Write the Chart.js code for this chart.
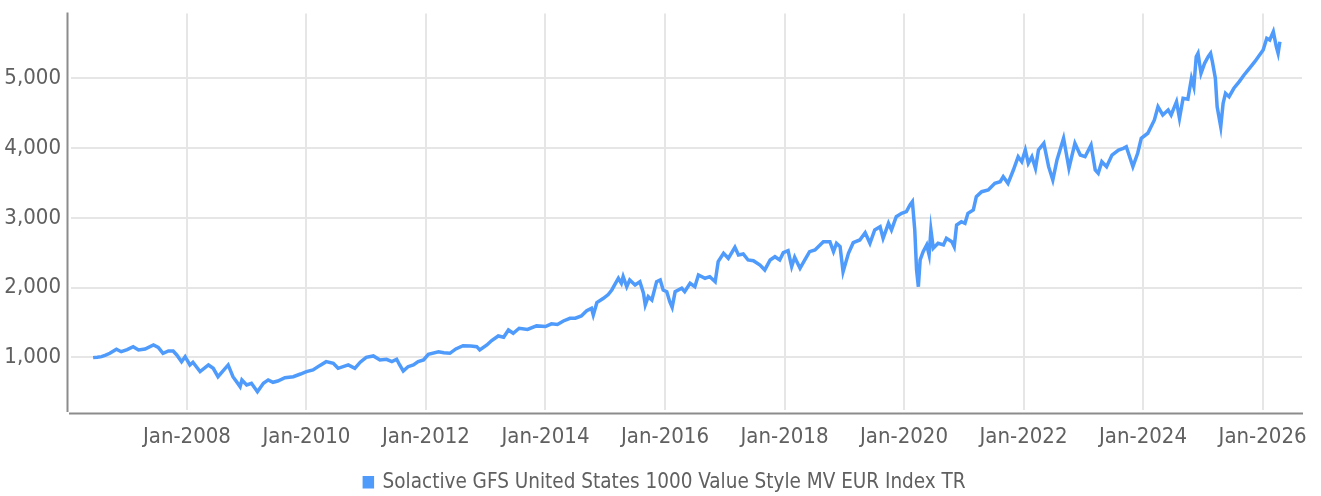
<!DOCTYPE html>
<html>
<head>
<meta charset="utf-8">
<script src="https://cdn.jsdelivr.net/npm/chart.js@4.4.1/dist/chart.umd.min.js"></script>
<style>
  html, body { margin: 0; padding: 0; background: #ffffff; }
  #wrap { width: 1321px; height: 496px; position: relative; }
</style>
</head>
<body>
<div id="wrap"><canvas id="c" width="1321" height="496"></canvas></div>
<script>
// Time in decimal years
const dateYears = [
  2006.43, 2006.50, 2006.57, 2006.64, 2006.71, 2006.82, 2006.90, 2007.00, 2007.10, 2007.19,
  2007.30, 2007.44, 2007.52, 2007.60, 2007.69, 2007.77, 2007.83, 2007.91, 2007.97, 2008.05,
  2008.10, 2008.22, 2008.36, 2008.44, 2008.52, 2008.69, 2008.77, 2008.89, 2008.92, 2009.00,
  2009.08, 2009.18, 2009.28, 2009.36, 2009.44, 2009.52, 2009.64, 2009.78, 2009.90, 2010.00,
  2010.11, 2010.22, 2010.33, 2010.45, 2010.53, 2010.70, 2010.81, 2010.90, 2011.00, 2011.12,
  2011.23, 2011.34, 2011.43, 2011.51, 2011.56, 2011.62, 2011.70, 2011.79, 2011.87, 2011.96,
  2012.04, 2012.21, 2012.30, 2012.40, 2012.50, 2012.62, 2012.75, 2012.85, 2012.90, 2013.02,
  2013.10, 2013.21, 2013.30, 2013.38, 2013.46, 2013.56, 2013.70, 2013.85, 2014.00, 2014.10,
  2014.20, 2014.30, 2014.41, 2014.50, 2014.60, 2014.69, 2014.77, 2014.80, 2014.86, 2014.97,
  2015.05, 2015.11, 2015.22, 2015.27, 2015.30, 2015.36, 2015.41, 2015.50, 2015.58, 2015.64,
  2015.67, 2015.72, 2015.78, 2015.86, 2015.92, 2015.97, 2016.03, 2016.08, 2016.12, 2016.17,
  2016.28, 2016.33, 2016.42, 2016.50, 2016.56, 2016.67, 2016.75, 2016.84, 2016.89, 2016.98,
  2017.06, 2017.17, 2017.23, 2017.31, 2017.39, 2017.48, 2017.59, 2017.67, 2017.76, 2017.84,
  2017.92, 2017.98, 2018.06, 2018.12, 2018.17, 2018.26, 2018.34, 2018.42, 2018.51, 2018.65,
  2018.76, 2018.82, 2018.87, 2018.93, 2018.98, 2019.07, 2019.15, 2019.26, 2019.35, 2019.43,
  2019.51, 2019.60, 2019.65, 2019.74, 2019.79, 2019.87, 2019.96, 2020.04, 2020.10, 2020.14,
  2020.18, 2020.21, 2020.24, 2020.27, 2020.32, 2020.38, 2020.42, 2020.45, 2020.49, 2020.57,
  2020.66, 2020.71, 2020.80, 2020.84, 2020.88, 2020.96, 2021.02, 2021.07, 2021.16, 2021.21,
  2021.30, 2021.41, 2021.52, 2021.61, 2021.66, 2021.74, 2021.83, 2021.91, 2021.97, 2022.03,
  2022.08, 2022.14, 2022.20, 2022.25, 2022.34, 2022.42, 2022.49, 2022.56, 2022.67, 2022.76,
  2022.86, 2022.95, 2023.03, 2023.13, 2023.20, 2023.25, 2023.31, 2023.39, 2023.48, 2023.59,
  2023.67, 2023.72, 2023.83, 2023.91, 2023.97, 2024.08, 2024.19, 2024.25, 2024.33, 2024.42,
  2024.47, 2024.56, 2024.61, 2024.67, 2024.75, 2024.81, 2024.85, 2024.89, 2024.92, 2024.97,
  2025.03, 2025.09, 2025.13, 2025.16, 2025.21, 2025.24, 2025.30, 2025.34, 2025.38, 2025.44,
  2025.52, 2025.61, 2025.69, 2025.78, 2025.87, 2025.95, 2026.01, 2026.07, 2026.12, 2026.18,
  2026.23, 2026.26, 2026.29
];

const indexValues = [
  995, 1000, 1009, 1030, 1057, 1115, 1080, 1110, 1152, 1105,
  1119, 1176, 1143, 1057, 1090, 1090, 1033, 937, 1009, 890,
  928, 794, 890, 842, 722, 890, 722, 579, 675, 603,
  627, 507, 627, 675, 641, 660, 708, 722, 760, 794,
  818, 880, 937, 914, 842, 890, 842, 930, 1000, 1019,
  961, 971, 937, 971, 890, 804, 865, 890, 937, 961,
  1043, 1080, 1065, 1057, 1120, 1166, 1160, 1152, 1105, 1176,
  1240, 1305, 1287, 1391, 1344, 1416, 1400, 1450, 1440, 1480,
  1470, 1520, 1559, 1560, 1592, 1668, 1702, 1606, 1783, 1846,
  1900, 1965, 2133, 2061, 2156, 2012, 2108, 2037, 2084, 1918,
  1750, 1869, 1822, 2084, 2108, 1965, 1941, 1797, 1717, 1941,
  1989, 1941, 2061, 2012, 2180, 2133, 2156, 2084, 2371, 2491,
  2419, 2577, 2467, 2481, 2395, 2385, 2323, 2252, 2395, 2442,
  2395, 2500, 2528, 2299, 2434, 2276, 2395, 2514, 2538, 2657,
  2657, 2514, 2634, 2586, 2227, 2491, 2643, 2682, 2786, 2634,
  2825, 2872, 2706, 2921, 2825, 3016, 3064, 3088, 3184, 3231,
  2825, 2252, 2012, 2395, 2514, 2610, 2467, 2825, 2563, 2634,
  2610, 2706, 2657, 2586, 2897, 2944, 2921, 3064, 3112, 3303,
  3374, 3399, 3494, 3518, 3589, 3494, 3685, 3876, 3804, 3972,
  3781, 3876, 3710, 3972, 4068, 3733, 3542, 3829, 4140, 3710,
  4068, 3900, 3876, 4044, 3685, 3638, 3804, 3733, 3900, 3972,
  3996, 4019, 3733, 3925, 4140, 4212, 4402, 4593, 4474, 4546,
  4474, 4665, 4427, 4713, 4700, 5000, 4880, 5310, 5358, 5072,
  5215, 5310, 5358, 5238, 5000, 4593, 4306, 4641, 4785, 4736,
  4857, 4952, 5048, 5143, 5238, 5334, 5406, 5574, 5549, 5668,
  5453, 5358, 5525
];

const seriesName = 'Solactive GFS United States 1000 Value Style MV EUR Index TR';
const xTickYears = [2008, 2010, 2012, 2014, 2016, 2018, 2020, 2022, 2024, 2026];
const yTickValues = [1000, 2000, 3000, 4000, 5000];

const FONT = "'Liberation Sans Narrow', 'DejaVu Sans Condensed', 'Roboto', sans-serif";
const TEXT = '#606060';
const BLUE = '#4f9bfc';

const points = dateYears.map((t, i) => ({ x: t, y: indexValues[i] }));

const axisLines = {
  id: 'axisLines',
  afterLayout(chart) {
    const lg = chart.legend;
    if (lg) { lg.left += 14; lg.right += 14; }
  },
  afterDraw(chart) {
    const { ctx, chartArea: a } = chart;
    ctx.save();
    ctx.strokeStyle = '#8c8c8c';
    ctx.lineWidth = 2;
    ctx.beginPath();
    ctx.moveTo(a.left - 3.5, a.top - 1);
    ctx.lineTo(a.left - 3.5, a.bottom + 2);
    ctx.moveTo(a.left - 2, a.bottom + 3.5);
    ctx.lineTo(a.right + 1, a.bottom + 3.5);
    ctx.stroke();
    ctx.restore();
  }
};

new Chart(document.getElementById('c'), {
  type: 'line',
  data: {
    datasets: [{
      label: seriesName,
      data: points,
      borderColor: BLUE,
      backgroundColor: BLUE,
      borderWidth: 3.5,
      pointRadius: 0,
      tension: 0,
      fill: false
    }]
  },
  options: {
    responsive: false,
    animation: false,
    layout: { padding: { left: 0, right: 19, top: 13.5, bottom: 0 } },
    plugins: {
      tooltip: { enabled: false },
      legend: {
        position: 'bottom',
        maxHeight: 24,
        labels: {
          font: { family: FONT, size: 20.5 },
          color: TEXT,
          boxWidth: 8,
          boxHeight: 9,
          padding: 0,
          useBorderRadius: false
        }
      }
    },
    scales: {
      x: {
        type: 'linear',
        min: 2006.06,
        max: 2026.66,
        afterBuildTicks(scale) { scale.ticks = xTickYears.map(v => ({ value: v })); },
        afterFit(scale) { scale.height = 62; scale.paddingLeft = 0; scale.paddingRight = 0; },
        grid: { color: '#e6e6e6', lineWidth: 2, drawTicks: false },
        border: { display: false },
        ticks: {
          padding: 14,
          maxRotation: 0,
          autoSkip: false,
          color: TEXT,
          font: { family: FONT, size: 22 },
          callback: (v) => 'Jan-' + v
        }
      },
      y: {
        min: 244,
        max: 5929,
        afterBuildTicks(scale) { scale.ticks = yTickValues.map(v => ({ value: v })); },
        afterFit(scale) { scale.width = 71; scale.paddingTop = 0; scale.paddingBottom = 0; },
        grid: { color: '#e6e6e6', lineWidth: 2, drawTicks: false },
        border: { display: false },
        ticks: {
          padding: 10,
          color: TEXT,
          font: { family: FONT, size: 22 },
          callback: (v) => v.toLocaleString('en-US')
        }
      }
    }
  },
  plugins: [axisLines]
});
</script>
</body>
</html>
